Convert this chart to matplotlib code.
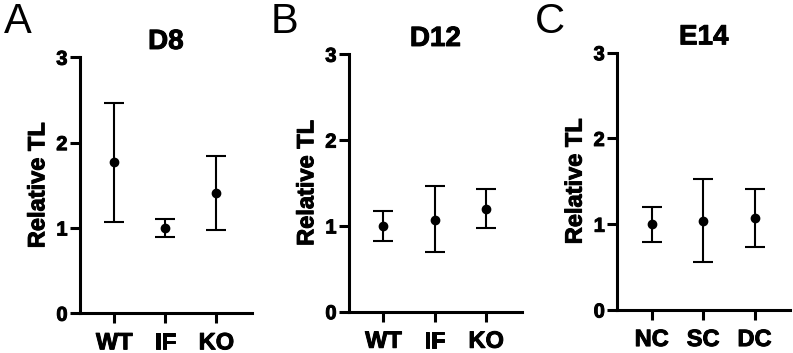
import matplotlib.pyplot as plt
import matplotlib.patheffects as pe
import numpy as np

plt.rcParams['font.family'] = ['Liberation Sans', 'DejaVu Sans']
plt.rcParams['font.weight'] = 'bold'

# data (mean, upper end, lower end of the bar)
titles = ['D8', 'D12', 'E14']
letters = ['A', 'B', 'C']
groups = [['WT', 'IF', 'KO'], ['WT', 'IF', 'KO'], ['NC', 'SC', 'DC']]
means = [[1.77, 1.0, 1.41], [1.0, 1.07, 1.20], [1.0, 1.04, 1.07]]
upper = [[2.47, 1.10, 1.84], [1.17, 1.46, 1.43], [1.20, 1.53, 1.41]]
lower = [[1.07, 0.89, 0.98], [0.82, 0.69, 0.97], [0.79, 0.56, 0.73]]

W, H = 793, 353
fig = plt.figure(figsize=(W / 100, H / 100), dpi=100)

# axes boxes in pixels: left, right, top, bottom
boxes = [(80, 251.7, 57.3, 313.3), (349, 521.7, 54.3, 311.7), (617.3, 790, 52.7, 310)]
letter_x = [4, 271, 535]
heavy = [pe.withStroke(linewidth=0.7, foreground='black')]

for i in range(3):
    l, r, t, b = boxes[i]
    ax = fig.add_axes([l / W, (H - b) / H, (r - l) / W, (b - t) / H])
    x = np.arange(3)
    m = np.array(means[i])
    err = [m - np.array(lower[i]), np.array(upper[i]) - m]
    ax.errorbar(x, m, yerr=err, fmt='o', color='black', ms=6,
                elinewidth=1.5, capsize=7.5, capthick=1.5)
    ax.set_xlim(-0.67, 2.69)
    ax.set_ylim(0, 3)
    ax.set_yticks([0, 1, 2, 3])
    ax.set_xticks(x)
    ax.set_xticklabels(groups[i], fontsize=17, fontweight='bold')
    ax.tick_params(axis='y', labelsize=14.5, width=2.2, length=7, pad=2)
    ax.tick_params(axis='x', width=2.2, length=7, pad=6)
    for lab in ax.get_yticklabels() + ax.get_xticklabels():
        lab.set_fontweight('bold')
        lab.set_path_effects(heavy)
    for s in ['top', 'right']:
        ax.spines[s].set_visible(False)
    for s in ['left', 'bottom']:
        ax.spines[s].set_linewidth(2.2)
    yl = ax.set_ylabel('Relative TL', fontsize=17, fontweight='bold', labelpad=5)
    yl.set_path_effects(heavy)
    tt = ax.set_title(titles[i], fontsize=20, fontweight='bold', pad=6)
    tt.set_path_effects(heavy)
    fig.text(letter_x[i] / W, 1 - 2 / H, letters[i], fontsize=30,
             fontweight='normal', va='top', ha='left')

fig.savefig('out.png', dpi=100)
